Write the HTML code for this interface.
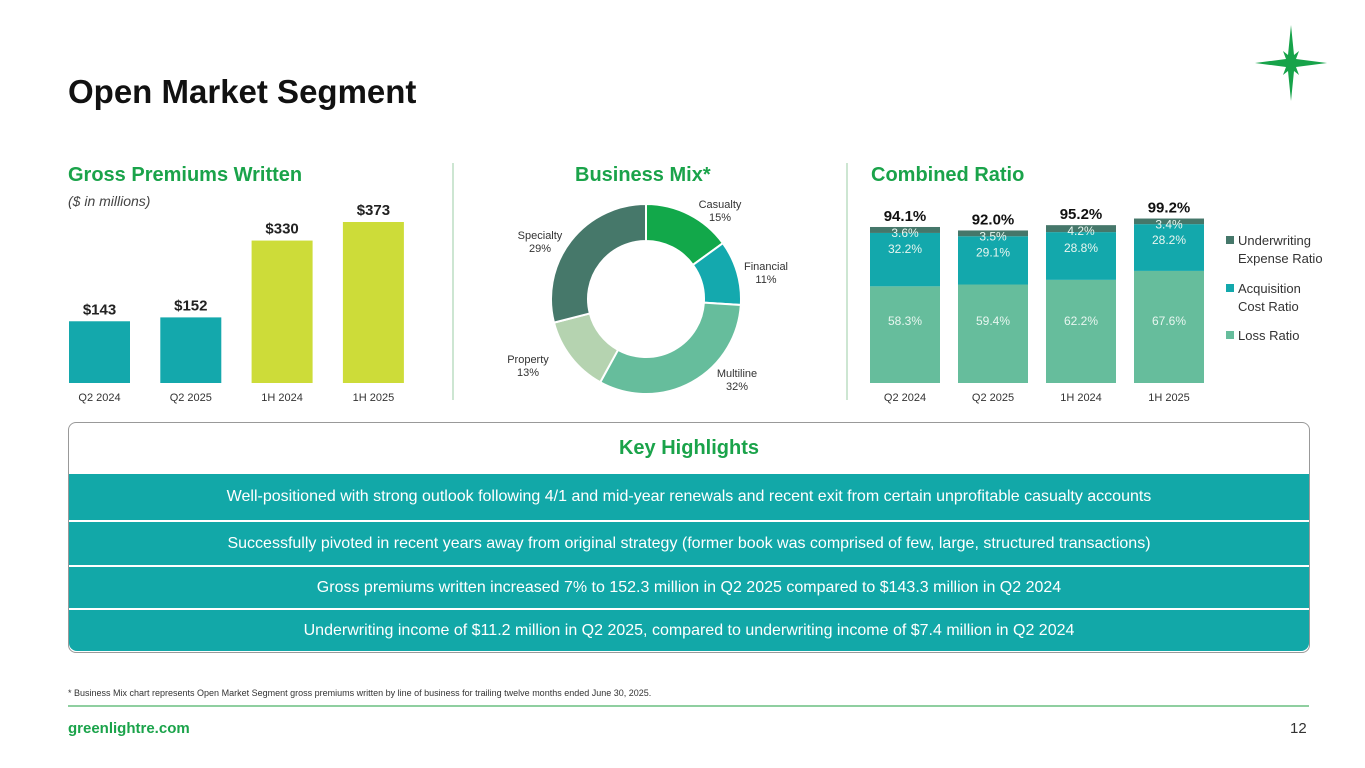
<!DOCTYPE html>
<html><head><meta charset="utf-8"><style>
body{margin:0;width:1365px;height:768px;background:#fff;font-family:"Liberation Sans",sans-serif;position:relative;overflow:hidden}
.a{position:absolute}
.h{color:#1aa34a;font-weight:bold;font-size:20px}
.row{position:absolute;left:69px;width:1240px;background:#12a8a8;color:#fff;font-size:16px;display:flex;align-items:center;justify-content:center}
</style></head><body>
<div class="a" style="left:68px;top:73px;font-size:33px;font-weight:bold;color:#111">Open Market Segment</div>
<svg class="a" style="left:1255px;top:25px" width="72" height="76" viewBox="0 0 72 76"><path d="M36 0 L39 30 L44 26 L41 34 L72 38 L41 42 L44 50 L39 46 L36 76 L33 46 L28 50 L31 42 L0 38 L31 34 L28 26 L33 30Z" fill="#17a34a"/></svg>
<div class="a h" style="left:68px;top:164px">Gross Premiums Written</div>
<div class="a" style="left:68px;top:193px;font-size:14px;font-style:italic;color:#444">($ in millions)</div>
<div class="a h" style="left:575px;top:164px">Business Mix*</div>
<div class="a h" style="left:871px;top:164px">Combined Ratio</div>
<div class="a" style="left:452px;top:163px;width:2px;height:237px;background:#cde6d2"></div>
<div class="a" style="left:846px;top:163px;width:2px;height:237px;background:#cde6d2"></div>
<svg class="a" id="charts" style="left:0;top:0" width="1365" height="420"></svg>
<div class="a" style="left:68px;top:422px;width:1240px;height:229px;border:1.5px solid #999;border-radius:8px;overflow:hidden">
<div style="position:absolute;left:0;top:0;width:100%;height:50px;display:flex;align-items:center;justify-content:center;color:#1aa34a;font-weight:bold;font-size:20px">Key Highlights</div>
</div>
<div class="row" style="top:474px;height:46px">Well-positioned with strong outlook following 4/1 and mid-year renewals and recent exit from certain unprofitable casualty accounts</div>
<div class="row" style="top:522px;height:43px">Successfully pivoted in recent years away from original strategy (former book was comprised of few, large, structured transactions)</div>
<div class="row" style="top:567px;height:41px">Gross premiums written increased 7% to 152.3 million in Q2 2025 compared to $143.3 million in Q2 2024</div>
<div class="row" style="top:610px;height:41px;border-radius:0 0 8px 8px">Underwriting income of $11.2 million in Q2 2025, compared to underwriting income of $7.4 million in Q2 2024</div>
<div class="a" style="left:68px;top:688px;font-size:9px;color:#333">* Business Mix chart represents Open Market Segment gross premiums written by line of business for trailing twelve months ended June 30, 2025.</div>
<div class="a" style="left:68px;top:705px;width:1241px;height:2px;background:#8fcfa0"></div>
<div class="a" style="left:68px;top:720px;font-size:15px;font-weight:bold;color:#1aa34a">greenlightre.com</div>
<div class="a" style="left:1290px;top:720px;font-size:15px;color:#333">12</div>
<script>
const gpwCats=["Q2 2024","Q2 2025","1H 2024","1H 2025"];
const gpwVals=[143,152,330,373];
const mixCats=["Casualty","Financial","Multiline","Property","Specialty"];
const mixVals=[15,11,32,13,29];
const crCats=["Q2 2024","Q2 2025","1H 2024","1H 2025"];
const lossVals=[58.3,59.4,62.2,67.6];
const acqVals=[32.2,29.1,28.8,28.2];
const uwVals=[3.6,3.5,4.2,3.4];
const totalVals=[94.1,92.0,95.2,99.2];
const NS="http://www.w3.org/2000/svg";
const svg=document.getElementById('charts');
function el(t,a,txt){const e=document.createElementNS(NS,t);for(const k in a)e.setAttribute(k,a[k]);if(txt!==undefined)e.textContent=txt;svg.appendChild(e);return e;}
const F='"Liberation Sans",sans-serif';
const base=383,gy=v=>base-v*161/373,gx=i=>69+i*91.3;
gpwVals.forEach((v,i)=>{
 const r=el('rect',{x:gx(i),y:gy(v),width:61,height:base-gy(v),fill:i<2?'#14a8ac':'#cddc39'});
 
 const t=el('text',{x:gx(i)+30.5,y:gy(v)-7,'text-anchor':'middle','font-size':15,'font-weight':'bold','font-family':F,fill:'#222'},'$'+v);
 
 const c=el('text',{x:gx(i)+30.5,y:401,'text-anchor':'middle','font-size':11,'font-family':F,fill:'#333'},gpwCats[i]);
 
});
const cx=646,cy=299,R=95,r0=58,cols=['#12a84a','#14a9ae','#66bd9c','#b5d3b0','#46786a'];
const tot=mixVals.reduce((a,b)=>a+b,0);let ang=-Math.PI/2;
const lp=[[720,212],[766,274],[737,381],[528,367],[540,243]];
mixVals.forEach((v,i)=>{
 const a2=ang+v/tot*2*Math.PI,lg=(a2-ang)>Math.PI?1:0;
 const p=(rr,a)=>[cx+rr*Math.cos(a),cy+rr*Math.sin(a)];
 const [x1,y1]=p(R,ang),[x2,y2]=p(R,a2),[x3,y3]=p(r0,a2),[x4,y4]=p(r0,ang);
 const s=el('path',{d:`M${x1} ${y1}A${R} ${R} 0 ${lg} 1 ${x2} ${y2}L${x3} ${y3}A${r0} ${r0} 0 ${lg} 0 ${x4} ${y4}Z`,fill:cols[i],stroke:'#fff','stroke-width':2});
 
 const t=el('text',{x:lp[i][0],y:lp[i][1]-4,'text-anchor':'middle','font-size':11,'font-family':F,fill:'#333'});
 
 const a=document.createElementNS(NS,'tspan');a.setAttribute('x',lp[i][0]);a.textContent=mixCats[i];t.appendChild(a);
 const b=document.createElementNS(NS,'tspan');b.setAttribute('x',lp[i][0]);b.setAttribute('dy',13);b.textContent=v+'%';t.appendChild(b);
 ang=a2;
});
const cyF=v=>v*1.658,cxF=i=>870+i*88;
crCats.forEach((c,i)=>{
 const segs=[[lossVals[i],'#66bd9c','loss'],[acqVals[i],'#13a8ac','acq'],[uwVals[i],'#45776a','uw']];
 let y=base;
 segs.forEach(([v,col,n],j)=>{
  const h=cyF(v);y-=h;
  const r=el('rect',{x:cxF(i),y:y,width:70,height:h,fill:col});
  
 });
 y=base;
 segs.forEach(([v,col,n],j)=>{
  const h=cyF(v);y-=h;
  const ty=j==2?y+10:(j==1?y+20:y+Math.max(18,h-58));
  const t=el('text',{x:cxF(i)+35,y:ty,'text-anchor':'middle','font-size':12,'font-family':F,fill:'#e8f6f0'},v.toFixed(1)+'%');
  
 });
 const t=el('text',{x:cxF(i)+35,y:y-6,'text-anchor':'middle','font-size':15,'font-weight':'bold','font-family':F,fill:'#111'},totalVals[i].toFixed(1)+'%');
 
 const x=el('text',{x:cxF(i)+35,y:401,'text-anchor':'middle','font-size':11,'font-family':F,fill:'#333'},c);
 
});
const leg=[['#45776a',['Underwriting','Expense Ratio'],236],['#13a8ac',['Acquisition','Cost Ratio'],284],['#66bd9c',['Loss Ratio'],331]];
leg.forEach(([c,l,y])=>{
 const s=el('rect',{x:1226,y:y,width:8,height:8,fill:c});
 
 l.forEach((w,k)=>{const t=el('text',{x:1238,y:y+9+k*18,'font-size':13,'font-family':F,fill:'#333'},w);
  });
});
</script>
</body></html>
